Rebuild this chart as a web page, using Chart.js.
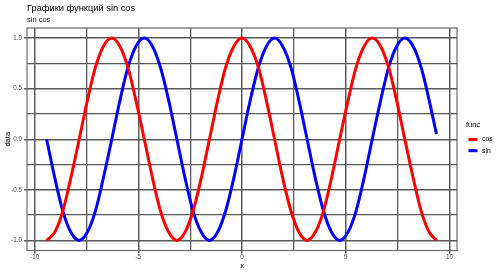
<!DOCTYPE html>
<html>
<head>
<meta charset="utf-8">
<script src="https://cdn.jsdelivr.net/npm/chart.js@4"></script>
<style>
  html, body { margin: 0; padding: 0; background: #fff; }
  canvas { display: block; }
</style>
</head>
<body>
<canvas id="funcChart" width="500" height="273"></canvas>
<script>
// x samples (step ~ pi/8 from -3pi)
const xValues = [-9.42, -9.03, -8.64, -8.25, -7.85, -7.46, -7.07, -6.68, -6.28, -5.89, -5.50, -5.11,
  -4.71, -4.32, -3.93, -3.53, -3.14, -2.75, -2.36, -1.96, -1.57, -1.18, -0.79, -0.39,
  0, 0.39, 0.79, 1.18, 1.57, 1.96, 2.36, 2.75, 3.14, 3.53, 3.93, 4.32,
  4.71, 5.11, 5.50, 5.89, 6.28, 6.68, 7.07, 7.46, 7.85, 8.25, 8.64, 9.03, 9.38];

const cosValues = [-1, -0.92, -0.71, -0.38, 0, 0.38, 0.71, 0.92, 1, 0.92, 0.71, 0.38,
  0, -0.38, -0.71, -0.92, -1, -0.92, -0.71, -0.38, 0, 0.38, 0.71, 0.92,
  1, 0.92, 0.71, 0.38, 0, -0.38, -0.71, -0.92, -1, -0.92, -0.71, -0.38,
  0, 0.38, 0.71, 0.92, 1, 0.92, 0.71, 0.38, 0, -0.38, -0.71, -0.92, -1];

const sinValues = [0, -0.38, -0.71, -0.92, -1, -0.92, -0.71, -0.38, 0, 0.38, 0.71, 0.92,
  1, 0.92, 0.71, 0.38, 0, -0.38, -0.71, -0.92, -1, -0.92, -0.71, -0.38,
  0, 0.38, 0.71, 0.92, 1, 0.92, 0.71, 0.38, 0, -0.38, -0.71, -0.92,
  -1, -0.92, -0.71, -0.38, 0, 0.38, 0.71, 0.92, 1, 0.92, 0.71, 0.38, 0.05];

const seriesNames = ['cos', 'sin'];
const seriesColors = ['#ff0000', '#0000ff'];

const xTicks = [-10, -7.5, -5, -2.5, 0, 2.5, 5, 7.5, 10];
const yTicks = [-1, -0.75, -0.5, -0.25, 0, 0.25, 0.5, 0.75, 1];

const FONT = "'Liberation Sans', Arial, sans-serif";
const gridColor = '#5a5a5a';

const toPoints = (ys) => xValues.map((x, i) => ({ x: x, y: ys[i] }));

const isMajor = (v, step) => Math.abs(v / step - Math.round(v / step)) < 1e-6;

// titles, panel border and legend, ggplot style
const decorPlugin = {
    id: 'decor',
    beforeDatasetsDraw(chart) {
        const ctx = chart.ctx;
        const a = chart.chartArea;
        ctx.save();
        ctx.strokeStyle = '#6a6a6a';
        ctx.lineWidth = 1.2;
        ctx.strokeRect(a.left, a.top, a.right - a.left, a.bottom - a.top);
        ctx.restore();
    },
    afterDraw(chart) {
        const ctx = chart.ctx;
        ctx.save();
        ctx.textBaseline = 'middle';
        ctx.textAlign = 'left';
        ctx.fillStyle = '#000';
        ctx.font = '9.3px ' + FONT;
        ctx.fillText('Графики функций sin cos', 27, 8);
        ctx.font = '7.5px ' + FONT;
        ctx.fillStyle = '#1a1a1a';
        ctx.fillText('sin cos', 27, 19.7);

        // legend
        ctx.fillStyle = '#000';
        ctx.font = '7.5px ' + FONT;
        ctx.fillText('func', 466, 125);
        ctx.font = '6.8px ' + FONT;
        const rows = [139.5, 150.7];
        seriesNames.forEach((name, i) => {
            ctx.strokeStyle = seriesColors[i];
            ctx.lineWidth = 3;
            ctx.beginPath();
            ctx.moveTo(468.5, rows[i]);
            ctx.lineTo(477.5, rows[i]);
            ctx.stroke();
            ctx.fillStyle = '#000';
            ctx.fillText(name, 482, rows[i]);
        });
        ctx.restore();
    }
};

const renderChart = () => {
    var ctx = document.getElementById('funcChart').getContext('2d');
    var myChart = new Chart(ctx, {
        type: 'line',
        data: {
            datasets: seriesNames.map((name, i) => ({
                label: name,
                data: toPoints(i === 0 ? cosValues : sinValues),
                borderColor: seriesColors[i],
                backgroundColor: seriesColors[i],
                borderWidth: 3,
                pointRadius: 0,
                cubicInterpolationMode: 'monotone',
                fill: false
            }))
        },
        options: {
            responsive: false,
            animation: false,
            devicePixelRatio: 1,
            layout: { padding: { top: 28, right: 43, left: 0, bottom: 0 } },
            plugins: {
                legend: { display: false },
                title: { display: false },
                tooltip: { enabled: false }
            },
            scales: {
                x: {
                    type: 'linear',
                    min: -10.367,
                    max: 10.367,
                    afterBuildTicks: (scale) => { scale.ticks = xTicks.map(v => ({ value: v })); },
                    afterFit: (scale) => { scale.height = 22.5; },
                    border: { display: false },
                    grid: {
                        color: gridColor,
                        lineWidth: (c) => (c.tick && isMajor(c.tick.value, 5)) ? 1.5 : 1.3,
                        tickColor: (c) => (c.tick && isMajor(c.tick.value, 5)) ? gridColor : 'rgba(0,0,0,0)',
                        tickLength: 3
                    },
                    ticks: {
                        autoSkip: false,
                        maxRotation: 0,
                        padding: 0,
                        color: '#4d4d4d',
                        font: { family: FONT, size: 6.3 },
                        callback: (v) => isMajor(v, 5) ? String(v) : ''
                    },
                    title: {
                        display: true,
                        text: 'x',
                        color: '#000',
                        font: { family: FONT, size: 7.5 },
                        padding: { top: 0, bottom: 2.8 }
                    }
                },
                y: {
                    min: -1.1,
                    max: 1.1,
                    afterBuildTicks: (scale) => { scale.ticks = yTicks.map(v => ({ value: v })); },
                    afterFit: (scale) => { scale.width = 27; },
                    border: { display: false },
                    grid: {
                        color: gridColor,
                        lineWidth: (c) => (c.tick && isMajor(c.tick.value, 0.5)) ? 1.5 : 1.3,
                        tickColor: (c) => (c.tick && isMajor(c.tick.value, 0.5)) ? gridColor : 'rgba(0,0,0,0)',
                        tickLength: 3
                    },
                    ticks: {
                        autoSkip: false,
                        padding: 2,
                        color: '#4d4d4d',
                        font: { family: FONT, size: 6.3 },
                        callback: (v) => isMajor(v, 0.5) ? v.toFixed(1) : ''
                    },
                    title: {
                        display: true,
                        text: 'data',
                        color: '#000',
                        font: { family: FONT, size: 7.5 },
                        padding: { top: 3, bottom: 3 }
                    }
                }
            }
        },
        plugins: [decorPlugin]
    });
};

renderChart();
</script>
</body>
</html>
